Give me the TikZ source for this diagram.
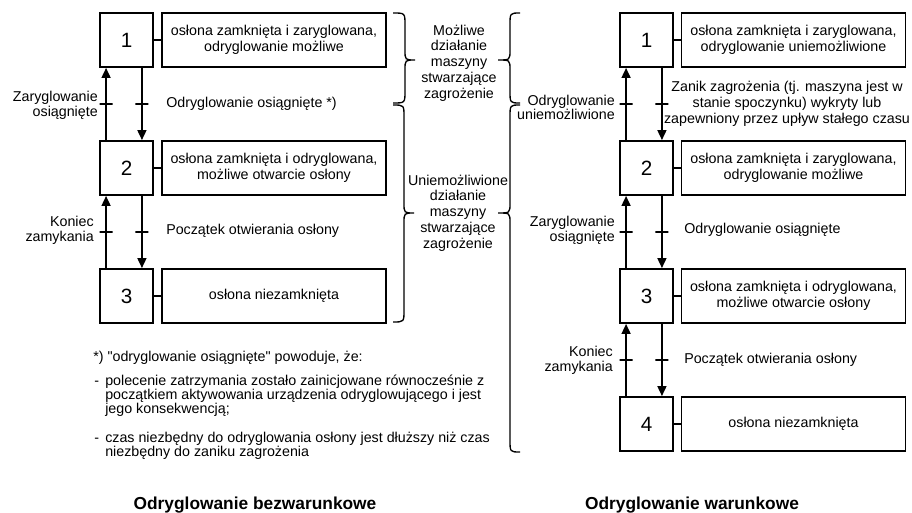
\documentclass[tikz,border=0pt]{standalone}
\usepackage{fontspec}
\setmainfont{Liberation Sans}
\usepackage{tikz}
\usetikzlibrary{arrows.meta}

\begin{document}
\begin{tikzpicture}[x=0.75pt, y=-0.75pt,
  stepbox/.style={draw, line width=1.4pt, minimum width=39.75pt, minimum height=40.5pt, inner sep=0pt, font=\fontsize{15.5}{18}\selectfont},
  statebox/.style={draw, line width=1.4pt, minimum width=168pt, minimum height=40.5pt, inner sep=1pt, align=center, font=\fontsize{10.7}{12}\selectfont},
  link/.style={line width=1.1pt},
  flow/.style={line width=1.2pt, -{Triangle[length=7.5pt,width=6.75pt]}},
  crossbar/.style={draw, line width=1.1pt, minimum width=9.75pt, minimum height=0pt, inner sep=0pt},
  lbl/.style={font=\fontsize{10.7}{11.5}\selectfont, inner sep=0pt},
  note/.style={font=\fontsize{10.7}{10.5}\selectfont, inner sep=0pt, align=left},
  brace/.style={line width=1pt},
  title/.style={font=\fontsize{13}{15}\selectfont\bfseries, inner sep=0pt}]

\useasboundingbox (0,0) rectangle (912,513);

% Odryglowanie bezwarunkowe
\node[stepbox] (a1) at (126.5,40) {1};
\node[stepbox] (a2) at (126.5,168) {2};
\node[stepbox] (a3) at (126.5,296) {3};
\node[statebox] (s1) at (274,40) {osłona zamknięta i zaryglowana,\\odryglowanie możliwe};
\node[statebox] (s2) at (274,168) {osłona zamknięta i odryglowana,\\możliwe otwarcie osłony};
\node[statebox] (s3) at (274,296) {osłona niezamknięta};
\draw[link] (a1) -- (s1);
\draw[link] (a2) -- (s2);
\draw[link] (a3) -- (s3);

\draw[flow] ([xshift=5.25pt]a2.north west) -- ([xshift=5.25pt]a1.south west) node[midway, crossbar] {};
\draw[flow] ([xshift=-9pt]a1.south east) -- ([xshift=-9pt]a2.north east) node[midway, crossbar] {};
\draw[flow] ([xshift=5.25pt]a3.north west) -- ([xshift=5.25pt]a2.south west) node[midway, crossbar] {};
\draw[flow] ([xshift=-9pt]a2.south east) -- ([xshift=-9pt]a3.north east) node[midway, crossbar] {};

\node[lbl, anchor=east, align=right] (l1) at (98,105) {Zaryglowanie\\osiągnięte};
\node[lbl, anchor=west] (r1) at (166,104) {Odryglowanie osiągnięte *)};
\node[lbl, anchor=east, align=right] (l2) at (94,230) {Koniec\\zamykania};
\node[lbl, anchor=west] (r2) at (166,231) {Początek otwierania osłony};

\node[note, anchor=west] (n0) at (93,358) {*) \textquotedbl odryglowanie osiągnięte\textquotedbl{} powoduje, że:};
\node[note, anchor=west] (n1) at (94,396) {\makebox[8.25pt][l]{-}polecenie zatrzymania zostało zainicjowane równocześnie z\\\hspace*{8.25pt}początkiem aktywowania urządzenia odryglowującego i jest\\\hspace*{8.25pt}jego konsekwencją;};
\node[note, anchor=west] (n2) at (94,446) {\makebox[8.25pt][l]{-}czas niezbędny do odryglowania osłony jest dłuższy niż czas\\\hspace*{8.25pt}niezbędny do zaniku zagrożenia};

\node[title] (t1) at (255,505) {Odryglowanie bezwarunkowe};

% klamry i opisy
\draw[brace] (393,13) .. controls (405,13) .. (405,25) -- (405,50) .. controls (405,60) .. (415,60)
  .. controls (405,60) .. (405,70) -- (405,91) .. controls (405,103) .. (393,103);
\draw[brace] (393,105) .. controls (404,105) .. (404,117) -- (404,203) .. controls (404,213) .. (414,213)
  .. controls (404,213) .. (404,223) -- (404,310) .. controls (404,322) .. (393,322);
\draw[brace] (520,13) .. controls (510,13) .. (510,25) -- (510,50) .. controls (510,60) .. (498,60)
  .. controls (510,60) .. (510,70) -- (510,91) .. controls (510,103) .. (520,103);
\draw[brace] (520,105) .. controls (510,105) .. (510,117) -- (510,203) .. controls (510,213) .. (498,213)
  .. controls (510,213) .. (510,223) -- (510,440) .. controls (510,452) .. (520,452);

\node[lbl, align=center, font=\fontsize{10.7}{11.8}\selectfont] (m1) at (459,63) {Możliwe\\działanie\\maszyny\\stwarzające\\zagrożenie};
\node[lbl, align=center, font=\fontsize{10.7}{11.8}\selectfont] (m2) at (458,213) {Uniemożliwione\\działanie\\maszyny\\stwarzające\\zagrożenie};

% Odryglowanie warunkowe
\node[stepbox] (b1) at (646.5,40) {1};
\node[stepbox] (b2) at (646.5,168) {2};
\node[stepbox] (b3) at (646.5,296) {3};
\node[stepbox] (b4) at (646.5,424) {4};
\node[statebox] (u1) at (793.5,40) {osłona zamknięta i zaryglowana,\\odryglowanie uniemożliwione};
\node[statebox] (u2) at (793.5,168) {osłona zamknięta i zaryglowana,\\odryglowanie możliwe};
\node[statebox] (u3) at (793.5,296) {osłona zamknięta i odryglowana,\\możliwe otwarcie osłony};
\node[statebox] (u4) at (793.5,424) {osłona niezamknięta};
\draw[link] (b1) -- (u1);
\draw[link] (b2) -- (u2);
\draw[link] (b3) -- (u3);
\draw[link] (b4) -- (u4);

\draw[flow] ([xshift=5.25pt]b2.north west) -- ([xshift=5.25pt]b1.south west) node[midway, crossbar] {};
\draw[flow] ([xshift=-9pt]b1.south east) -- ([xshift=-9pt]b2.north east) node[midway, crossbar] {};
\draw[flow] ([xshift=5.25pt]b3.north west) -- ([xshift=5.25pt]b2.south west) node[midway, crossbar] {};
\draw[flow] ([xshift=-9pt]b2.south east) -- ([xshift=-9pt]b3.north east) node[midway, crossbar] {};
\draw[flow] ([xshift=5.25pt]b4.north west) -- ([xshift=5.25pt]b3.south west) node[midway, crossbar] {};
\draw[flow] ([xshift=-9pt]b3.south east) -- ([xshift=-9pt]b4.north east) node[midway, crossbar] {};

\node[lbl, anchor=east, align=right, font=\fontsize{10.7}{10.5}\selectfont] (p1) at (615,107) {Odryglowanie\\uniemożliwione};
\node[lbl, align=center, font=\fontsize{10.7}{12}\selectfont] (q1) at (787,103.5) {Zanik zagrożenia (tj. maszyna jest w\\stanie spoczynku) wykryty lub\\zapewniony przez upływ stałego czasu};
\node[lbl, anchor=east, align=right] (p2) at (615,230) {Zaryglowanie\\osiągnięte};
\node[lbl, anchor=west] (q2) at (684,230) {Odryglowanie osiągnięte};
\node[lbl, anchor=east, align=right] (p3) at (613,360) {Koniec\\zamykania};
\node[lbl, anchor=west] (q3) at (684,360) {Początek otwierania osłony};

\node[title] (t2) at (692,505) {Odryglowanie warunkowe};
\end{tikzpicture}
\end{document}
